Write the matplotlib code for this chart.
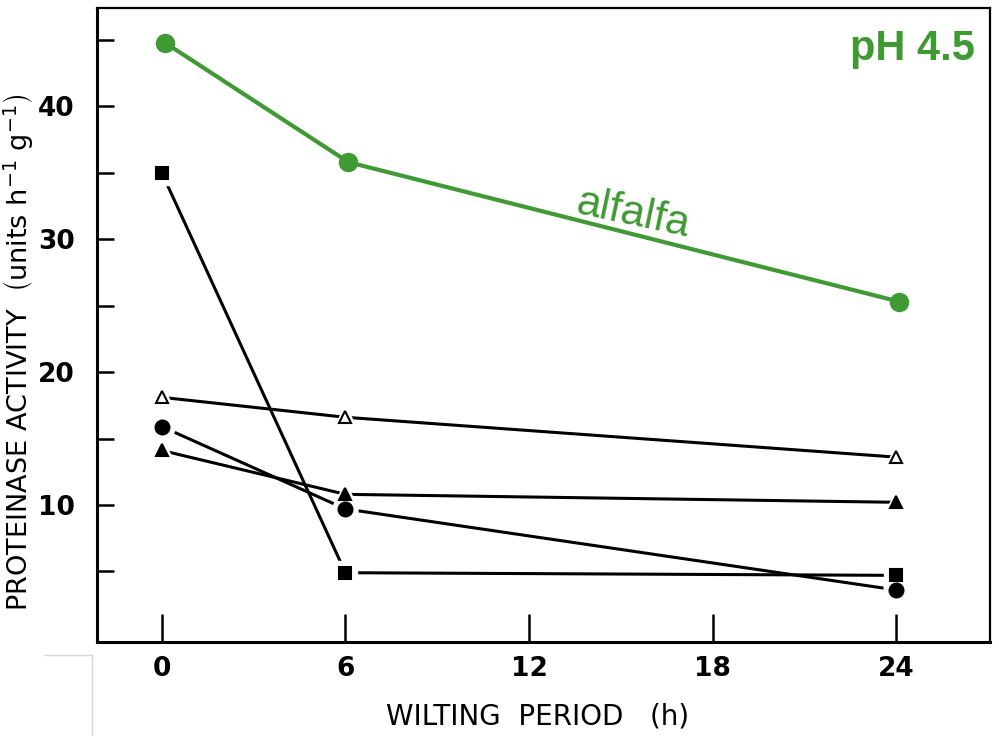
import matplotlib
matplotlib.use("Agg")
import matplotlib.pyplot as plt
from matplotlib.ticker import FixedLocator

# Valores
horas = [0, 6, 24]
horas_alfafa = [0.1, 6.1, 24.1]
alfafa = [44.8, 35.8, 25.3]
quadrado = [35.0, 4.9, 4.7]
triangulo_aberto = [18.1, 16.6, 13.6]
circulo = [15.9, 9.7, 3.6]
triangulo = [14.1, 10.8, 10.2]

x_ticks = [0, 6, 12, 18, 24]
y_ticks = [10, 20, 30, 40]
y_ticks_menores = [5, 15, 25, 35, 45]

verde = "#3f9a33"

fig = plt.figure(figsize=(9.99, 7.36), dpi=100)
ax = fig.add_axes([0.097, 0.128, 0.894, 0.861])

# Séries em preto (linha com pequeno espaço antes do marcador)
series = [
    (quadrado, "s", "black", 9),
    (triangulo_aberto, "^", "white", 9),
    (circulo, "o", "black", 10),
    (triangulo, "^", "black", 9),
]
for valores, marcador, preenchimento, tam in series:
    ax.plot(horas, valores, color="black", lw=2.2, zorder=2)
    ax.plot(horas, valores, ls="none", marker=marcador, ms=tam + 8,
            color="white", zorder=3)
    ax.plot(horas, valores, ls="none", marker=marcador, ms=tam,
            mfc=preenchimento, mec="black", mew=1.5, zorder=4)

# Série verde (alfafa)
ax.plot(horas_alfafa, alfafa, color=verde, lw=3, marker="o", ms=13, zorder=5)

ax.text(26.57, 44.3, "pH 4.5", color=verde, fontsize=30, fontweight="bold",
        family="Liberation Sans", ha="right", va="center")
ax.text(15.4, 31.9, "alfalfa", color=verde, fontsize=31,
        family="Liberation Sans", ha="center", va="center", rotation=-12)

ax.set_xlim(-2.12, 27.06)
ax.set_ylim(-0.3, 47.4)
ax.set_xticks(x_ticks)
ax.set_yticks(y_ticks)
ax.yaxis.set_minor_locator(FixedLocator(y_ticks_menores))
ax.tick_params(axis="both", which="both", direction="in", width=1.8,
               labelsize=19, top=False, right=False)
ax.tick_params(axis="y", which="both", length=12, pad=16)
ax.tick_params(axis="x", which="major", length=20, pad=10)
for rotulo in ax.get_xticklabels() + ax.get_yticklabels():
    rotulo.set_fontweight("bold")

for lado in ["left", "bottom"]:
    ax.spines[lado].set_linewidth(2.2)
for lado in ["top", "right"]:
    ax.spines[lado].set_linewidth(1.6)

fig.text(0.538, 1 - 717 / 736, "WILTING  PERIOD   (h)", fontsize=20,
         ha="center", va="center")
fig.text(0.019, 1 - 352 / 736,
         r"PROTEINASE ACTIVITY  $\left(\mathrm{units\ h^{-1}\ g^{-1}}\right)$",
         fontsize=19.5, rotation=90, ha="center", va="center")

# Artefato do recorte no canto inferior esquerdo
fig.add_artist(plt.Line2D([0.045, 0.092], [0.11, 0.11], color="#d8d8d8", lw=1))
fig.add_artist(plt.Line2D([0.092, 0.092], [0.0, 0.11], color="#d8d8d8", lw=1))

fig.savefig("out.png", dpi=100)
